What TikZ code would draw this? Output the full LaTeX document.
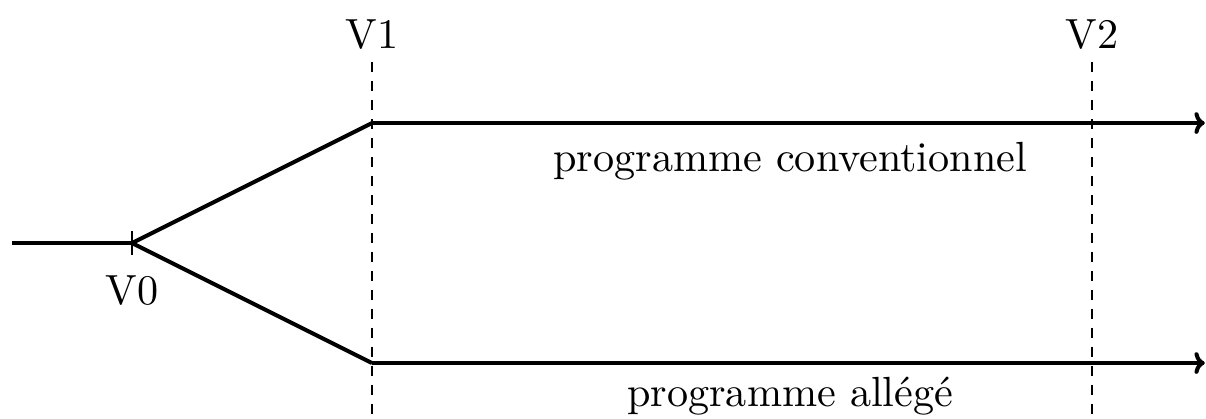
\documentclass[tikz,border=0pt]{standalone}
\usetikzlibrary{arrows.meta}
\begin{document}
\begin{tikzpicture}[
  branch/.style={line width=1.9pt},
  tip/.style={-{Computer Modern Rightarrow[scale=0.85]}},
  guide/.style={line width=0.8pt, dash pattern=on 4.7pt off 4.3pt},
  lbl/.style={inner sep=0pt, anchor=base}
]
\useasboundingbox (0,0) rectangle (20.1,6.9833);
\coordinate (s) at (0.2,2.933);
\coordinate (v0) at (2.2,2.933);
\coordinate (up) at (6.2,4.933);
\coordinate (dn) at (6.2,0.933);
\coordinate (upend) at (20.08,4.933);
\coordinate (dnend) at (20.08,0.933);
\coordinate (d1t) at (6.2,5.95);
\coordinate (d1b) at (6.2,0);
\coordinate (d2t) at (18.2,5.95);
\coordinate (d2b) at (18.2,0);
\coordinate (tk1) at (2.2,3.133);
\coordinate (tk2) at (2.2,2.733);
\draw[guide] (d1t) -- (d1b);
\draw[guide] (d2t) -- (d2b);
\draw[branch] (s) -- (v0);
\draw[line width=0.9pt] (tk1) -- (tk2);
\draw[branch, line join=round] (v0) -- (up);
\draw[branch, line join=round] (v0) -- (dn);
\draw[branch, tip] (up) -- (upend);
\draw[branch, tip] (dn) -- (dnend);
\node[lbl] (lv1) at (6.2,6.183) {\scalebox{2}{V1}};
\node[lbl] (lv2) at (18.2,6.183) {\scalebox{2}{V2}};
\node[lbl] (lv0) at (2.2,1.9) {\scalebox{2}{V0}};
\node[lbl] (lconv) at (13.17,4.133) {\scalebox{2}{programme conventionnel}};
\node[lbl] (lall) at (13.17,0.2) {\scalebox{2}{programme allégé}};
\end{tikzpicture}
\end{document}
